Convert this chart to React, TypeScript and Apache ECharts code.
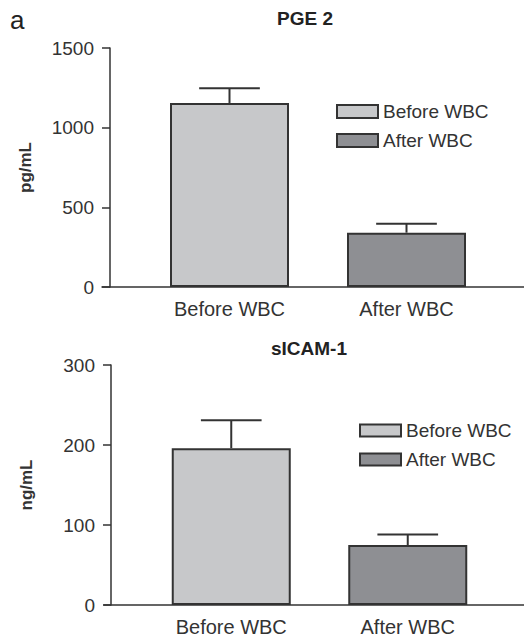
import React, { useEffect, useRef } from "react";
import * as echarts from "echarts";

const categories = ["Before WBC", "After WBC"];
const seriesNames = ["Before WBC", "After WBC"];
const pgeValues = [1155, 341];
const pgeErrors = [92, 56];
const icamValues = [196, 75];
const icamErrors = [35, 13];
const pgeTicks = { min: 0, max: 1500, interval: 500 };
const icamTicks = { min: 0, max: 300, interval: 100 };

const FONT = "Liberation Sans, Arial, sans-serif";
const DARK = "#333333";
const COLORS = ["#c7c8ca", "#8e8f93"];
const BAR_W = 119;

function panel(idx: number, values: number[], errors: number[]) {
  const g = idx * 2;
  const bars = seriesNames.map((name, si) => ({
    name,
    type: "bar",
    xAxisIndex: g,
    yAxisIndex: g,
    barWidth: BAR_W,
    barGap: "-100%",
    data: values.map((v, i) => (i === si ? v : "-")),
    itemStyle: { color: COLORS[si], borderColor: DARK, borderWidth: 2 },
    z: 2,
  }));
  const err = {
    type: "custom",
    name: "err" + idx,
    xAxisIndex: g,
    yAxisIndex: g,
    z: 3,
    data: values.map((v, i) => [i, v, errors[i]]),
    renderItem: (params: any, api: any) => {
      const x = api.value(0);
      const v = api.value(1);
      const e = api.value(2);
      const base = api.coord([x, v]);
      const top = api.coord([x, v + e]);
      const half = BAR_W * 0.255;
      const st = { stroke: DARK, lineWidth: 2 };
      return {
        type: "group",
        children: [
          { type: "line", shape: { x1: base[0], y1: base[1], x2: top[0], y2: top[1] }, style: st },
          { type: "line", shape: { x1: top[0] - half, y1: top[1], x2: top[0] + half, y2: top[1] }, style: st },
        ],
      };
    },
  };
  return [...bars, err];
}

export default function App() {
  const ref = useRef<HTMLDivElement>(null);
  useEffect(() => {
    document.body.style.margin = "0";
    const chart = echarts.init(ref.current!, null, { renderer: "svg" });

    const mainX = (gi: number) => ({
      type: "category",
      gridIndex: gi,
      data: categories,
      axisLine: { show: false },
      axisTick: { show: false },
      axisLabel: { color: DARK, fontSize: 20, fontFamily: FONT, margin: 12 },
    });
    const extX = (gi: number) => ({
      type: "category",
      gridIndex: gi,
      data: ["", ""],
      axisLine: { show: true, lineStyle: { color: DARK, width: 1.5 } },
      axisTick: { show: false },
      axisLabel: { show: false },
    });
    const mainY = (gi: number, name: string, t: any, offset: number, nameGap: number) => ({
      type: "value",
      gridIndex: gi,
      min: t.min,
      max: t.max,
      interval: t.interval,
      offset,
      name,
      nameLocation: "middle",
      nameRotate: 90,
      nameGap,
      nameTextStyle: { color: DARK, fontSize: 17, fontWeight: "bold", fontFamily: FONT },
      axisLine: { show: true, lineStyle: { color: DARK, width: 1.5 } },
      axisTick: { show: true, inside: false, length: 8, lineStyle: { color: DARK, width: 1.5 } },
      axisLabel: { color: DARK, fontSize: 19, fontFamily: FONT, margin: 16, formatter: (v: number) => String(v) },
      splitLine: { show: false },
    });
    const hiddenY = (gi: number) => ({ type: "value", gridIndex: gi, show: false, min: 0, max: 1 });

    const legendCfg = (left: number, top: number, h: number) => ({
      left,
      top,
      orient: "vertical",
      itemWidth: 41,
      itemHeight: h,
      itemGap: 10,
      icon: "rect",
      data: seriesNames,
      itemStyle: { borderColor: DARK, borderWidth: 2 },
      textStyle: { color: DARK, fontSize: 19, fontFamily: FONT, lineHeight: 18, padding: [0, 0, 0, 0] },
      selectedMode: false,
    });

    chart.setOption({
      animation: false,
      backgroundColor: "#ffffff",
      grid: [
        { left: 141, right: 29, top: 48, bottom: 350 },
        { left: 102, right: 0, top: 48, bottom: 350 },
        { left: 143, right: 28, top: 365, bottom: 32 },
        { left: 104, right: 0, top: 365, bottom: 32 },
      ],
      xAxis: [mainX(0), extX(1), mainX(2), extX(3)],
      yAxis: [
        mainY(0, "pg/mL", pgeTicks, 31, 76),
        hiddenY(1),
        mainY(2, "ng/mL", icamTicks, 32, 76),
        hiddenY(3),
      ],
      legend: [legendCfg(331, 97, 13), legendCfg(354, 416, 12)],
      graphic: [
        { type: "text", x: 10, y: 20, style: { text: "a", fontSize: 26, fontFamily: FONT, fill: "#222", textVerticalAlign: "middle" } },
        { type: "text", x: 305, y: 18, style: { text: "PGE 2", fontSize: 19, fontWeight: "bold", fontFamily: FONT, fill: "#222", textAlign: "center", textVerticalAlign: "middle" } },
        { type: "text", x: 309, y: 348, style: { text: "sICAM-1", fontSize: 19, fontWeight: "bold", fontFamily: FONT, fill: "#222", textAlign: "center", textVerticalAlign: "middle" } },
      ],
      series: [...panel(0, pgeValues, pgeErrors), ...panel(1, icamValues, icamErrors)],
    });
    return () => chart.dispose();
  }, []);
  return <div ref={ref} style={{ width: 524, height: 637 }} />;
}
